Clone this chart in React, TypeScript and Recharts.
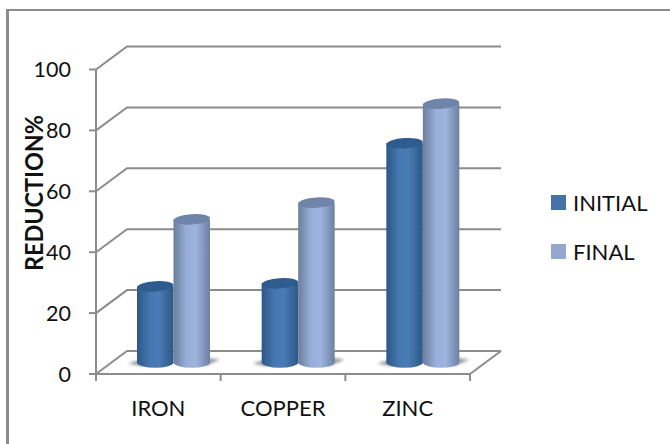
import { BarChart, Bar, XAxis, YAxis, CartesianGrid, Legend } from 'recharts';

const metals = ['IRON', 'COPPER', 'ZINC'];
const initialValues = [25, 26, 72];
const finalValues = [47, 52.5, 85];
const yTicks = [0, 20, 40, 60, 80, 100];

const rows = metals.map((metal, i) => ({
  metal,
  INITIAL: initialValues[i],
  FINAL: finalValues[i],
}));

const FONT = 'Lato, sans-serif';
const LINE = '#8c8c8c';
// how far the back wall sits from the front plane
const DEPTH_X = 31;
const DEPTH_Y = -23;
// cylinders stand halfway into the depth
const BAR_DX = 15;
const BAR_DY = -11.5;
const BAND = 124.67;

const capColor: Record<string, string> = { INITIAL: '#2f5c8f', FINAL: '#6f84a9' };

function GridLine(props: any) {
  const { x1, x2, y1, index } = props;
  const bx = x1 + DEPTH_X;
  const by = y1 + DEPTH_Y;
  const isFloor = y1 > 370;
  return (
    <g key={`wall-${index}`} fill="none" stroke={LINE} strokeWidth={2}>
      <path d={`M${x1} ${y1}L${bx} ${by}L${x2 + DEPTH_X} ${by}`} />
      {isFloor && <path d={`M${x2} ${y1}L${x2 + DEPTH_X} ${by}`} />}
    </g>
  );
}

function Cylinder(props: any) {
  const { x, y, width, height, dataKey } = props;
  const left = x + BAR_DX;
  const top = y + BAR_DY;
  const bottom = top + height;
  const cx = left + width / 2;
  const ry = 5.2;
  const shadow =
    dataKey === 'INITIAL'
      ? `M${left + 4} ${bottom - 3}L${left - 9} ${bottom + 1}L${left + 6} ${bottom + 4}Z`
      : `M${left + width - 6} ${bottom - 5}L${left + width + 10} ${bottom - 3}L${left + width - 6} ${bottom + 4}Z`;
  return (
    <g>
      <path d={shadow} fill="#9a9a9a" filter="url(#floorShadow)" />
      <path
        d={`M${left} ${top}V${bottom}A${width / 2} ${ry} 0 0 0 ${left + width} ${bottom}V${top}Z`}
        fill={`url(#body${dataKey})`}
      />
      <ellipse
        cx={cx}
        cy={top}
        rx={width / 2}
        ry={ry}
        fill={capColor[dataKey]}
        transform={`rotate(-4 ${cx} ${top})`}
      />
    </g>
  );
}

function CategoryTick(props: any) {
  const { x, y, payload, index } = props;
  const left = x - BAND / 2;
  return (
    <g>
      <line x1={left} x2={left} y1={374} y2={381} stroke={LINE} strokeWidth={2} />
      {index === metals.length - 1 && (
        <line x1={left + BAND} x2={left + BAND} y1={374} y2={381} stroke={LINE} strokeWidth={2} />
      )}
      <text x={x} y={y + 34} textAnchor="middle" fontFamily={FONT} fontSize={22} fill="#111">
        {payload.value}
      </text>
    </g>
  );
}

function AxisTitle() {
  return (
    <text
      transform="translate(43 193) rotate(-90)"
      textAnchor="middle"
      textLength={156}
      lengthAdjust="spacingAndGlyphs"
      fontFamily={FONT}
      fontWeight={700}
      fontSize={25}
      fill="#111"
    >
      REDUCTION%
    </text>
  );
}

function SeriesKey({ payload }: any) {
  return (
    <div>
      {(payload ?? []).map((entry: any) => (
        <div key={entry.value} style={{ display: 'flex', alignItems: 'center', height: 49 }}>
          <span style={{ width: 15, height: 15, background: entry.color, marginRight: 7 }} />
          <span style={{ fontFamily: FONT, fontSize: 22, color: '#111' }}>{entry.value}</span>
        </div>
      ))}
    </div>
  );
}

export default function App() {
  return (
    <div style={{ position: 'absolute', left: 0, top: 0, width: 670, height: 444, background: '#fff', overflow: 'hidden' }}>
      <div style={{ position: 'absolute', left: 6, top: 9, width: 670, height: 440, borderLeft: `3px solid ${LINE}`, borderTop: `2px solid ${LINE}` }} />
      <BarChart
        width={670}
        height={444}
        data={rows}
        barSize={36.5}
        barGap={0}
        margin={{ top: 69.5, right: 85, bottom: 0, left: 0 }}
        style={{ position: 'absolute', left: 0, top: 0 }}
      >
        <defs>
          <linearGradient id="bodyINITIAL" x1="0" y1="0" x2="1" y2="0">
            <stop offset="0%" stopColor="#2c5788" />
            <stop offset="35%" stopColor="#4677b0" />
            <stop offset="60%" stopColor="#4a7bb5" />
            <stop offset="100%" stopColor="#2d5885" />
          </linearGradient>
          <linearGradient id="bodyFINAL" x1="0" y1="0" x2="1" y2="0">
            <stop offset="0%" stopColor="#6c7e9e" />
            <stop offset="35%" stopColor="#98aed8" />
            <stop offset="62%" stopColor="#9db4de" />
            <stop offset="100%" stopColor="#6d80a3" />
          </linearGradient>
          <filter id="floorShadow" x="-50%" y="-100%" width="200%" height="300%">
            <feGaussianBlur stdDeviation="1.5" />
          </filter>
        </defs>
        <CartesianGrid vertical={false} horizontal={GridLine} />
        <XAxis
          dataKey="metal"
          height={70}
          axisLine={{ stroke: LINE, strokeWidth: 2 }}
          tickLine={false}
          tick={CategoryTick}
          interval={0}
        />
        <YAxis
          width={96}
          domain={[0, 100]}
          ticks={yTicks}
          axisLine={{ stroke: LINE, strokeWidth: 2 }}
          tickLine={{ stroke: LINE, strokeWidth: 2 }}
          tickSize={7}
          tickMargin={18}
          tick={{ fontFamily: FONT, fontSize: 21.5, fill: '#111' }}
          label={AxisTitle}
        />
        <Legend
          layout="vertical"
          align="right"
          verticalAlign="top"
          itemSorter={null}
          content={SeriesKey}
          wrapperStyle={{ left: 551, top: 178, width: 115 }}
        />
        <Bar dataKey="INITIAL" fill="#4573a7" shape={Cylinder} isAnimationActive={false} />
        <Bar dataKey="FINAL" fill="#93a7cf" shape={Cylinder} isAnimationActive={false} />
      </BarChart>
    </div>
  );
}
